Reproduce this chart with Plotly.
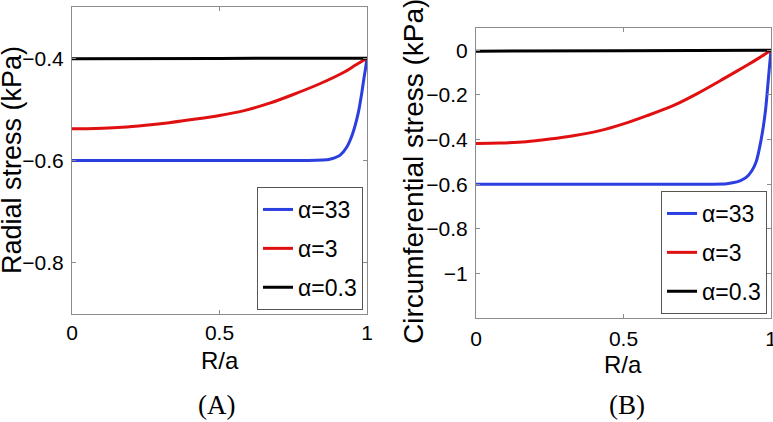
import plotly.graph_objects as go

# ---- data ----
labels = ["α=33", "α=3", "α=0.3"]
colors = ["#2b3ee0", "#e01010", "#000000"]

# Panel A: radial stress (kPa)
a_blue_R = [0.0, 0.5, 0.8, 0.85, 0.87, 0.89, 0.908, 0.93, 0.951, 0.970, 0.982, 0.990, 0.995, 1.0]
a_blue_v = [-0.600, -0.600, -0.600, -0.599, -0.598, -0.595, -0.590, -0.575, -0.548, -0.508, -0.469, -0.438, -0.420, -0.400]
a_red_R = [0.0, 0.08, 0.17, 0.25, 0.33, 0.42, 0.5, 0.58, 0.67, 0.75, 0.84, 0.92, 0.96, 1.0]
a_red_v = [-0.538, -0.5375, -0.535, -0.531, -0.526, -0.519, -0.512, -0.503, -0.488, -0.471, -0.450, -0.428, -0.414, -0.400]
a_blk_R = [0.0, 0.5, 1.0]
a_blk_v = [-0.401, -0.4005, -0.400]

# Panel B: circumferential stress (kPa)
b_blue_R = [0.0, 0.5, 0.8, 0.85, 0.87, 0.895, 0.916, 0.935, 0.950, 0.967, 0.981, 0.989, 0.995, 1.0]
b_blue_v = [-0.600, -0.600, -0.600, -0.598, -0.594, -0.585, -0.570, -0.540, -0.498, -0.397, -0.273, -0.160, -0.070, 0.000]
b_red_R = [0.0, 0.08, 0.17, 0.25, 0.33, 0.42, 0.5, 0.58, 0.67, 0.75, 0.84, 0.92, 0.96, 1.0]
b_red_v = [-0.418, -0.416, -0.410, -0.398, -0.383, -0.360, -0.330, -0.293, -0.247, -0.194, -0.127, -0.066, -0.034, 0.000]
b_blk_R = [0.0, 0.5, 1.0]
b_blk_v = [-0.004, -0.002, 0.000]

x_ticks = [0, 0.5, 1]
x_ticktext = ["0", "0.5", "1"]

fig = go.Figure()

panelA = [(a_blue_R, a_blue_v), (a_red_R, a_red_v), (a_blk_R, a_blk_v)]
panelB = [(b_blue_R, b_blue_v), (b_red_R, b_red_v), (b_blk_R, b_blk_v)]

for i, (rx, ry) in enumerate(panelA):
    fig.add_trace(go.Scatter(x=rx, y=ry, mode="lines", name=labels[i],
                             line=dict(color=colors[i], width=3, shape="spline", smoothing=0.8),
                             xaxis="x", yaxis="y", legend="legend", legendgroup="a%d" % i))
for i, (rx, ry) in enumerate(panelB):
    fig.add_trace(go.Scatter(x=rx, y=ry, mode="lines", name=labels[i],
                             line=dict(color=colors[i], width=3, shape="spline", smoothing=0.8),
                             xaxis="x2", yaxis="y2", legend="legend2", legendgroup="b%d" % i))

W, H = 773, 422
def px_x(p):
    return p / W
def px_y(p):
    return 1 - p / H

tickfont = dict(family="Arial, Liberation Sans", size=21, color="#000")
titlefont = dict(family="Arial, Liberation Sans", size=28, color="#000")
titlefontA = dict(family="Arial, Liberation Sans", size=27, color="#000")
axcommon = dict(showline=True, linecolor="#8c8c8c", linewidth=1, mirror="ticks",
                ticks="inside", ticklen=4, tickcolor="#8c8c8c", showgrid=False,
                zeroline=False, tickfont=tickfont, automargin=False,
                ticklabeloverflow="allow")

legcommon = dict(font=dict(family="Arial, Liberation Sans", size=23, color="#000"),
                 bgcolor="white", bordercolor="#555", borderwidth=1,
                 itemwidth=30, tracegroupgap=6, xanchor="right", yanchor="bottom")

fig.update_layout(
    width=W, height=H,
    margin=dict(l=0, r=0, t=0, b=0, autoexpand=False),
    paper_bgcolor="white", plot_bgcolor="white",
    xaxis=dict(domain=[px_x(72), px_x(367)], range=[0, 1], tickvals=x_ticks, ticktext=x_ticktext,
               anchor="y", ticklabelstandoff=0, **axcommon),
    yaxis=dict(domain=[px_y(314), px_y(7)], range=[-0.9, -0.3], tickvals=[-0.8, -0.6, -0.4],
               anchor="x", ticklabelstandoff=3, **axcommon),
    xaxis2=dict(domain=[px_x(476), px_x(771)], range=[0, 1], tickvals=x_ticks, ticktext=x_ticktext,
                anchor="y2", ticklabelstandoff=2, **axcommon),
    yaxis2=dict(domain=[px_y(318), px_y(28)], range=[-1.2, 0.1], tickvals=[-1, -0.8, -0.6, -0.4, -0.2, 0],
                anchor="x2", ticklabelstandoff=3, **axcommon),
    legend=dict(x=px_x(363), y=px_y(310), **legcommon),
    legend2=dict(x=px_x(767), y=px_y(314), **legcommon),
    showlegend=True,
)

# y-axis titles
fig.add_annotation(text="Radial stress (kPa)", x=px_x(12), y=px_y(160), xref="paper", yref="paper",
                   textangle=-90, xanchor="center", yanchor="middle", showarrow=False, font=titlefontA)
fig.add_annotation(text="Circumferential stress (kPa)", x=px_x(413), y=px_y(172), xref="paper", yref="paper",
                   textangle=-90, xanchor="center", yanchor="middle", showarrow=False, font=titlefont)

# x-axis titles
xtitlefont = dict(family="Arial, Liberation Sans", size=24, color="#000")
fig.add_annotation(text="R/a", x=px_x(220), y=px_y(360), xref="paper", yref="paper",
                   xanchor="center", yanchor="middle", showarrow=False, font=xtitlefont)
fig.add_annotation(text="R/a", x=px_x(623), y=px_y(364), xref="paper", yref="paper",
                   xanchor="center", yanchor="middle", showarrow=False, font=xtitlefont)

serif = dict(family="Times New Roman, Liberation Serif", size=27, color="#000")
fig.add_annotation(text="(A)", x=px_x(216), y=px_y(405), xref="paper", yref="paper",
                   xanchor="center", yanchor="middle", showarrow=False, font=serif)
fig.add_annotation(text="(B)", x=px_x(627), y=px_y(405), xref="paper", yref="paper",
                   xanchor="center", yanchor="middle", showarrow=False, font=serif)

fig.write_html("out.html", config={"displayModeBar": False},
               post_script="document.body.style.margin='0';")
